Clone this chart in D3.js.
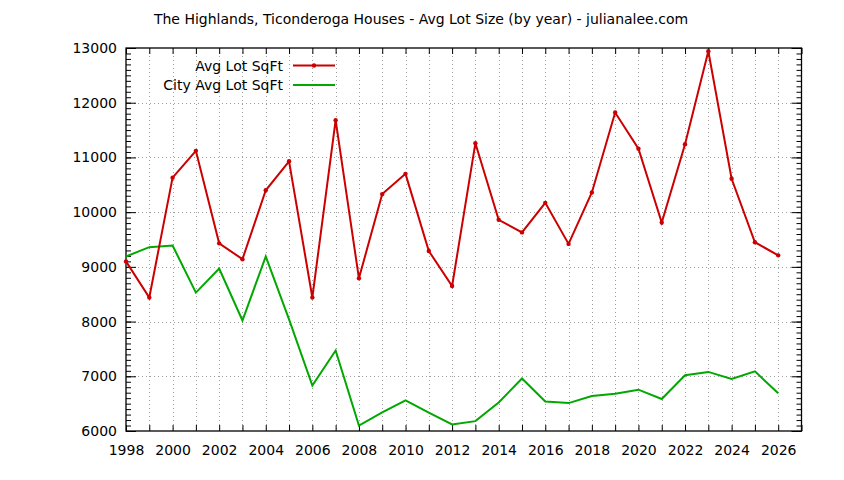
<!DOCTYPE html>
<html>
<head>
<meta charset="utf-8">
<script src="https://cdn.jsdelivr.net/npm/d3@7"></script>
<style>
  body { margin: 0; background: #fff; }
  svg text { font-family: "DejaVu Sans", sans-serif; fill: #000; }
</style>
</head>
<body>
<svg id="chart"></svg>
<script>
// data
const years = [1998, 1999, 2000, 2001, 2002, 2003, 2004, 2005, 2006, 2007, 2008, 2009, 2010, 2011, 2012,
  2013, 2014, 2015, 2016, 2017, 2018, 2019, 2020, 2021, 2022, 2023, 2024, 2025, 2026];
const avgLot = [9100, 8440, 10630, 11120, 9430, 9140, 10400, 10930, 8440, 11680, 8790, 10330, 10700, 9290, 8650,
  11260, 9860, 9630, 10170, 9420, 10360, 11820, 11160, 9810, 11240, 12940, 10610, 9450, 9210];
const cityAvgLot = [9190, 9360, 9390, 8530, 8970, 8020, 9190, 8040, 6830, 7470, 6100, 6340, 6560, 6335, 6120,
  6180, 6520, 6960, 6540, 6510, 6640, 6680, 6755, 6585, 7020, 7080, 6950, 7090, 6690];
const yTicks = [6000, 7000, 8000, 9000, 10000, 11000, 12000, 13000];
const xLabels = d3.range(1998, 2027, 2);
const title = "The Highlands, Ticonderoga Houses - Avg Lot Size (by year) - julianalee.com";

(function() {
    const width = 844;
    const height = 480;
    const m = { left: 126, right: 801.5, top: 48, bottom: 431 };

    const svg = d3.select("#chart").attr("width", width).attr("height", height);

    const x = d3.scaleLinear().domain([1998, 2027]).range([m.left, m.right]);
    const y = d3.scaleLinear().domain([6000, 13000]).range([m.bottom, m.top]);

    // grid
    const grid = svg.append("g")
        .attr("stroke", "#a0a0a0")
        .attr("stroke-width", 1)
        .attr("stroke-dasharray", "1,3");
    grid.selectAll(".vg").data(d3.range(1999, 2027)).enter().append("line")
        .attr("x1", d => Math.round(x(d)) + 0.5).attr("x2", d => Math.round(x(d)) + 0.5)
        .attr("y1", m.top).attr("y2", m.bottom);
    grid.selectAll(".hg").data(yTicks.slice(1, -1)).enter().append("line")
        .attr("x1", m.left).attr("x2", m.right)
        .attr("y1", d => Math.round(y(d)) + 0.5).attr("y2", d => Math.round(y(d)) + 0.5);

    // axes
    const allYears = d3.range(1998, 2028);
    const minorY = d3.range(6000, 13001, 100);

    svg.append("g")
        .attr("transform", `translate(0,${m.bottom})`)
        .call(d3.axisBottom(x).tickValues(allYears).tickSize(6).tickFormat(d => xLabels.includes(d) ? d : ""))
        .call(g => g.select(".domain").remove())
        .call(g => g.selectAll(".tick line").attr("y2", -6))
        .call(g => g.selectAll("text").attr("font-size", 14).attr("dy", 0).attr("y", 24));

    svg.append("g")
        .attr("transform", `translate(0,${m.top})`)
        .call(d3.axisTop(x).tickValues(allYears).tickSize(-6).tickFormat(""))
        .call(g => g.select(".domain").remove());

    svg.append("g")
        .attr("transform", `translate(${m.left},0)`)
        .call(d3.axisLeft(y).tickValues(minorY).tickSize(-5).tickFormat(""))
        .call(g => g.select(".domain").remove());
    svg.append("g")
        .attr("transform", `translate(${m.left},0)`)
        .call(d3.axisLeft(y).tickValues(yTicks).tickSize(-10).tickPadding(9).tickFormat(d3.format("d")))
        .call(g => g.select(".domain").remove())
        .call(g => g.selectAll("text").attr("font-size", 14));

    svg.append("g")
        .attr("transform", `translate(${m.right},0)`)
        .call(d3.axisRight(y).tickValues(minorY).tickSize(-5).tickFormat(""))
        .call(g => g.select(".domain").remove());
    svg.append("g")
        .attr("transform", `translate(${m.right},0)`)
        .call(d3.axisRight(y).tickValues(yTicks).tickSize(-10).tickFormat(""))
        .call(g => g.select(".domain").remove());

    svg.append("rect")
        .attr("x", m.left).attr("y", m.top)
        .attr("width", m.right - m.left).attr("height", m.bottom - m.top)
        .attr("fill", "none").attr("stroke", "#000").attr("stroke-width", 1.3);

    // series
    const line = d3.line().x((d, i) => x(years[i])).y(d => y(d));

    svg.append("path").datum(cityAvgLot)
        .attr("d", line).attr("fill", "none")
        .attr("stroke", "#00a800").attr("stroke-width", 2);

    svg.append("path").datum(avgLot)
        .attr("d", line).attr("fill", "none")
        .attr("stroke", "#cc0000").attr("stroke-width", 2);

    svg.append("g").selectAll("circle").data(avgLot).enter().append("circle")
        .attr("cx", (d, i) => x(years[i])).attr("cy", d => y(d))
        .attr("r", 2.2).attr("fill", "#cc0000");

    // legend
    const legend = svg.append("g");
    const items = [
        { label: "Avg Lot SqFt", color: "#cc0000", marker: true },
        { label: "City Avg Lot SqFt", color: "#00a800", marker: false }
    ];
    items.forEach((it, i) => {
        const ly = 65.5 + i * 19.5;
        legend.append("text").attr("x", 283).attr("y", ly + 5).attr("text-anchor", "end")
            .attr("font-size", 14).text(it.label);
        legend.append("line").attr("x1", 293).attr("x2", 335).attr("y1", ly).attr("y2", ly)
            .attr("stroke", it.color).attr("stroke-width", 2);
        if (it.marker) {
            legend.append("circle").attr("cx", 314).attr("cy", ly).attr("r", 2.2).attr("fill", it.color);
        }
    });

    svg.append("text")
        .attr("x", 421).attr("y", 24).attr("text-anchor", "middle")
        .attr("font-size", 14).text(title);
})();
</script>
</body>
</html>
